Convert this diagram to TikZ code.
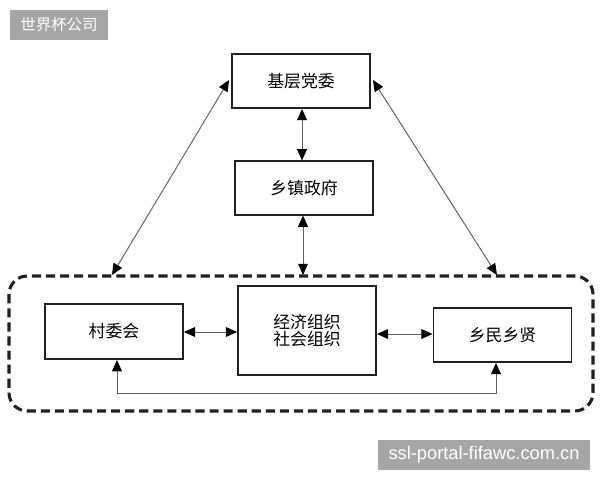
\documentclass[tikz,border=0pt]{standalone}
\usepackage{fontspec}
\setmainfont{Liberation Sans}
\newfontfamily\cjk{Noto Sans CJK SC}
\usetikzlibrary{positioning, arrows.meta, calc}
\definecolor{ink}{gray}{0.13}
\definecolor{wire}{gray}{0.38}
\definecolor{mark}{RGB}{166,166,166}

\begin{document}
\begin{tikzpicture}[x=0.025cm, y=-0.025cm, font=\cjk\fontsize{12}{15}\selectfont,
  box/.style={draw=ink, line width=1.3pt, fill=white, align=center,
    minimum width=3.45cm, inner sep=0pt},
  link/.style={draw=wire, line width=.7pt,
    {Triangle[length=8pt, width=7pt, color=black]}-{Triangle[length=8pt, width=7pt, color=black]}},
  stamp/.style={fill=mark, text=white, inner sep=0pt}]
\useasboundingbox (0,0) rectangle (600,480);

% watermarks
\node[stamp, minimum width=2.45cm, minimum height=.75cm, font=\cjk\fontsize{11}{13}\selectfont]
  (wm1) at (59,25) {世界杯公司};
\node[stamp, minimum width=5.3cm, minimum height=.75cm, font=\fontsize{13}{15}\selectfont]
  (wm2) at (484,455) {ssl-portal-fifawc.com.cn};

% outer dashed frame
\draw[ink, line width=2.2pt, dash pattern=on 6.5pt off 3.5pt, rounded corners=13pt]
  (9,276) rectangle (593,411);
\coordinate (fl) at (112,275);
\coordinate (fm) at (303,275);
\coordinate (fr) at (497,275);

\node[box, minimum height=1.35cm] (dangwei) at (301,81) {基层党委};
\node[box, minimum height=1.33cm] (zhengfu) at (304,188) {乡镇政府};
\node[box, minimum height=1.38cm] (cunwei) at (114,331.5) {村委会};
\node[box, minimum height=2.22cm] (zuzhi) at (307,330.5) {经济组织\\[-3pt]社会组织};
\node[box, minimum height=1.35cm] (xiangmin) at (502.5,335) {乡民乡贤};

\draw[link] (dangwei.south -| 302,0) -- (zhengfu.north -| 302,0);
\draw[link] (zhengfu.south -| fm) -- (fm);
\draw[link] ($(dangwei.west)+(-2,-1)$) -- (fl);
\draw[link] ($(dangwei.east)+(2,-1)$) -- (fr);
\draw[link] (cunwei.east |- 0,332) -- (zuzhi.west |- 0,332);
\draw[link] (zuzhi.east |- 0,334) -- (xiangmin.west |- 0,334);
\draw[link] (cunwei.south -| 117,0) -- (117,393) -- (496,393) -- (xiangmin.south -| 496,0);
\end{tikzpicture}
\end{document}
